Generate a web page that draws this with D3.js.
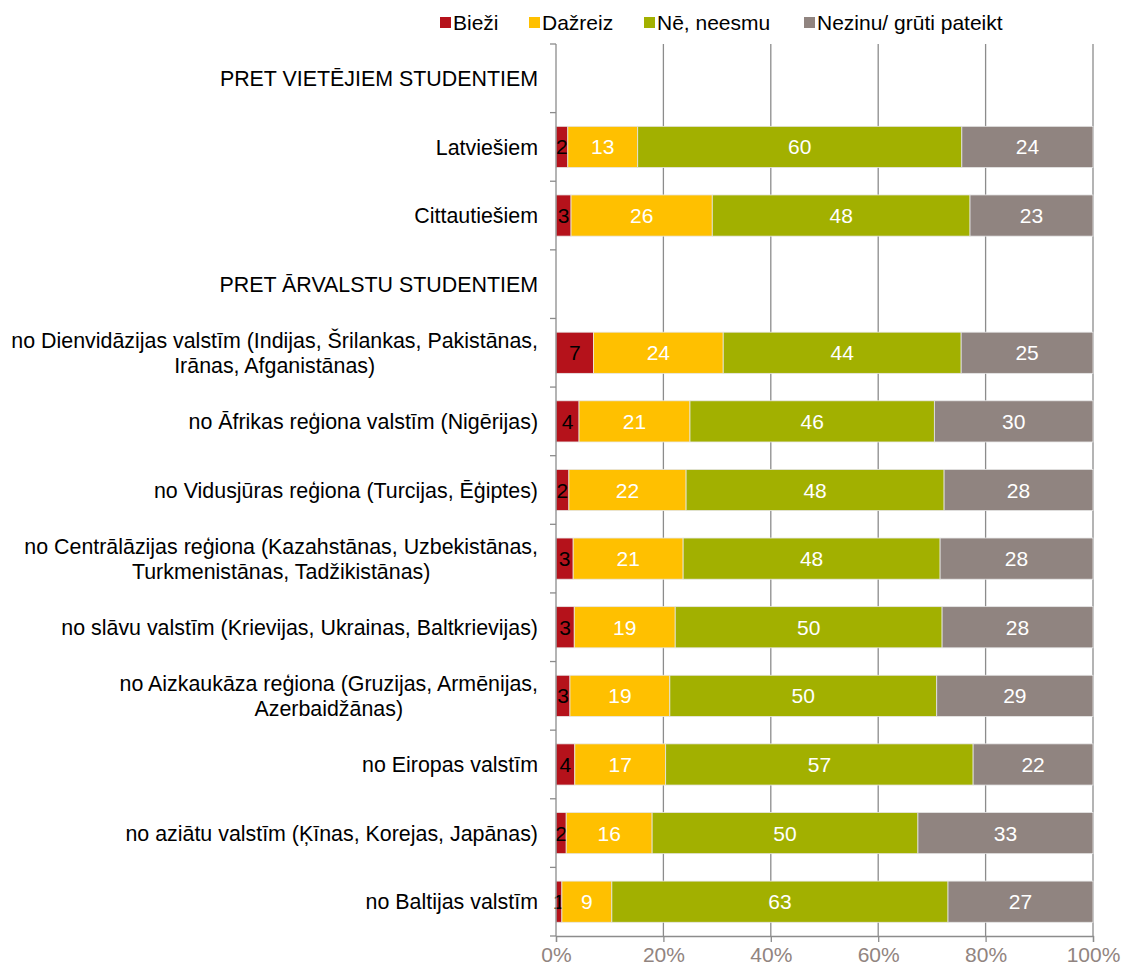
<!DOCTYPE html>
<html>
<head>
<meta charset="utf-8">
<script src="https://cdn.jsdelivr.net/npm/d3@7"></script>
<style>
  body { margin: 0; background: #fff; }
  svg text { font-family: "Liberation Sans", Arial, sans-serif; }
</style>
</head>
<body>
<svg id="chart" width="1121" height="969"></svg>
<script>
// categories (\n = line break), null rows are section headers without bars
const categories = [
  "PRET VIETĒJIEM STUDENTIEM",
  "Latviešiem",
  "Cittautiešiem",
  "PRET ĀRVALSTU STUDENTIEM",
  "no Dienvidāzijas valstīm (Indijas, Šrilankas, Pakistānas,\nIrānas, Afganistānas)",
  "no Āfrikas reģiona valstīm (Nigērijas)",
  "no Vidusjūras reģiona (Turcijas, Ēģiptes)",
  "no Centrālāzijas reģiona (Kazahstānas, Uzbekistānas,\nTurkmenistānas, Tadžikistānas)",
  "no slāvu valstīm (Krievijas, Ukrainas, Baltkrievijas)",
  "no Aizkaukāza reģiona (Gruzijas, Armēnijas,\nAzerbaidžānas)",
  "no Eiropas valstīm",
  "no aziātu valstīm (Ķīnas, Korejas, Japānas)",
  "no Baltijas valstīm"
];
const seriesNames = ["Bieži", "Dažreiz", "Nē, neesmu", "Nezinu/ grūti pateikt"];
const seriesColors = ["#b5121b", "#ffc000", "#a2b000", "#908480"];

// shares (%)
const biezi    = [null, 2.2, 2.8, null, 7.0, 4.3, 2.4, 3.2, 3.4, 2.6, 3.5, 1.9, 1.1];
const dazreiz  = [null, 13.0, 26.3, null, 24.2, 20.7, 21.8, 20.5, 18.8, 18.6, 16.9, 16.0, 9.3];
const neNeesmu = [null, 60.3, 48.0, null, 44.4, 45.6, 48.0, 47.9, 49.7, 49.7, 57.2, 49.5, 62.6];
const nezinu   = [null, 24.4, 22.9, null, 24.6, 29.6, 27.7, 28.5, 28.1, 29.1, 22.3, 32.6, 27.0];
// labels written on the bars
const labBiezi    = [null, 2, 3, null, 7, 4, 2, 3, 3, 3, 4, 2, 1];
const labDazreiz  = [null, 13, 26, null, 24, 21, 22, 21, 19, 19, 17, 16, 9];
const labNe       = [null, 60, 48, null, 44, 46, 48, 48, 50, 50, 57, 50, 63];
const labNezinu   = [null, 24, 23, null, 25, 30, 28, 28, 28, 29, 22, 33, 27];
const xTicks = [0, 20, 40, 60, 80, 100];

const series = [biezi, dazreiz, neNeesmu, nezinu];
const seriesLabels = [labBiezi, labDazreiz, labNe, labNezinu];

const FS = 21;
const margin = {top: 44, right: 28, bottom: 33, left: 556};
const W = 1121, H = 969;
const svg = d3.select("#chart");

const x = d3.scaleLinear().domain([0, 100]).range([margin.left, W - margin.right]);
const y = d3.scaleBand().domain(d3.range(categories.length))
    .range([margin.top, H - margin.bottom]).paddingInner(0.4).paddingOuter(0.2);

// gridlines
svg.append("g").selectAll("line")
  .data(xTicks.slice(1))
  .join("line")
    .attr("x1", d => x(d)).attr("x2", d => x(d))
    .attr("y1", margin.top).attr("y2", H - margin.bottom)
    .attr("stroke", "#8c8c8c").attr("stroke-width", 1.3);

// bars
categories.forEach(function(c, i) {
  if (biezi[i] == null) return;
  const total = series.reduce((s, arr) => s + arr[i], 0);
  let acc = 0;
  series.forEach(function(arr, k) {
    const x0 = x(acc / total * 100);
    acc += arr[i];
    const x1 = x(acc / total * 100);
    svg.append("rect")
      .attr("x", x0).attr("y", y(i))
      .attr("width", x1 - x0).attr("height", y.bandwidth())
      .attr("fill", seriesColors[k])
      .attr("stroke", "#e6e6e6").attr("stroke-width", 0.8);
    svg.append("text")
      .attr("x", (x0 + x1) / 2).attr("y", y(i) + y.bandwidth() / 2)
      .attr("dy", "0.36em")
      .attr("text-anchor", "middle")
      .attr("font-size", FS)
      .attr("fill", k === 0 ? "#000" : "#fff")
      .text(seriesLabels[k][i]);
  });
});

// left axis with ticks at band boundaries
const step = y.step();
const yAxisG = svg.append("g");
yAxisG.append("line")
  .attr("x1", margin.left).attr("x2", margin.left)
  .attr("y1", margin.top).attr("y2", H - margin.bottom)
  .attr("stroke", "#8c8c8c").attr("stroke-width", 1.3);
yAxisG.selectAll("line.tk")
  .data(d3.range(categories.length + 1))
  .join("line").attr("class", "tk")
    .attr("x1", margin.left - 6).attr("x2", margin.left)
    .attr("y1", d => margin.top + d * step).attr("y2", d => margin.top + d * step)
    .attr("stroke", "#8c8c8c").attr("stroke-width", 1.3);

// category labels
categories.forEach(function(c, i) {
  const lines = c.split("\n");
  const cy = y(i) + y.bandwidth() / 2;
  const lh = 25;
  const t = svg.append("text")
    .attr("font-size", 21.4)
    .attr("fill", "#000");
  lines.forEach(function(l, j) {
    t.append("tspan")
      .attr("y", cy + (j - (lines.length - 1) / 2) * lh)
      .attr("dy", "0.36em")
      .text(l);
  });
  // right-align the block, center lines inside it
  const tsp = t.selectAll("tspan").nodes();
  const maxW = d3.max(tsp, n => n.getComputedTextLength());
  const right = margin.left - 18;
  tsp.forEach(function(n) {
    d3.select(n).attr("x", right - maxW / 2).attr("text-anchor", "middle");
  });
});

// bottom axis
const xAxis = d3.axisBottom(x).tickValues(xTicks).tickFormat(d => d + "%").tickSize(6).tickPadding(5);
const gx = svg.append("g").attr("transform", "translate(0," + (H - margin.bottom) + ")").call(xAxis);
gx.select(".domain").attr("stroke", "#8c8c8c").attr("stroke-width", 1.3);
gx.selectAll(".tick line").attr("stroke", "#8c8c8c").attr("stroke-width", 1.3);
gx.selectAll(".tick text").attr("font-size", FS).attr("fill", "#918480")
  .attr("font-family", "Liberation Sans, Arial, sans-serif");

// legend
const legendX = [440, 529, 644, 804];
const lg = svg.append("g");
seriesNames.forEach(function(n, k) {
  lg.append("rect").attr("x", legendX[k]).attr("y", 17).attr("width", 11).attr("height", 11)
    .attr("fill", seriesColors[k]);
  lg.append("text").attr("x", legendX[k] + 13).attr("y", 22).attr("dy", "0.36em")
    .attr("font-size", FS).attr("fill", "#000").text(n);
});
</script>
</body>
</html>
